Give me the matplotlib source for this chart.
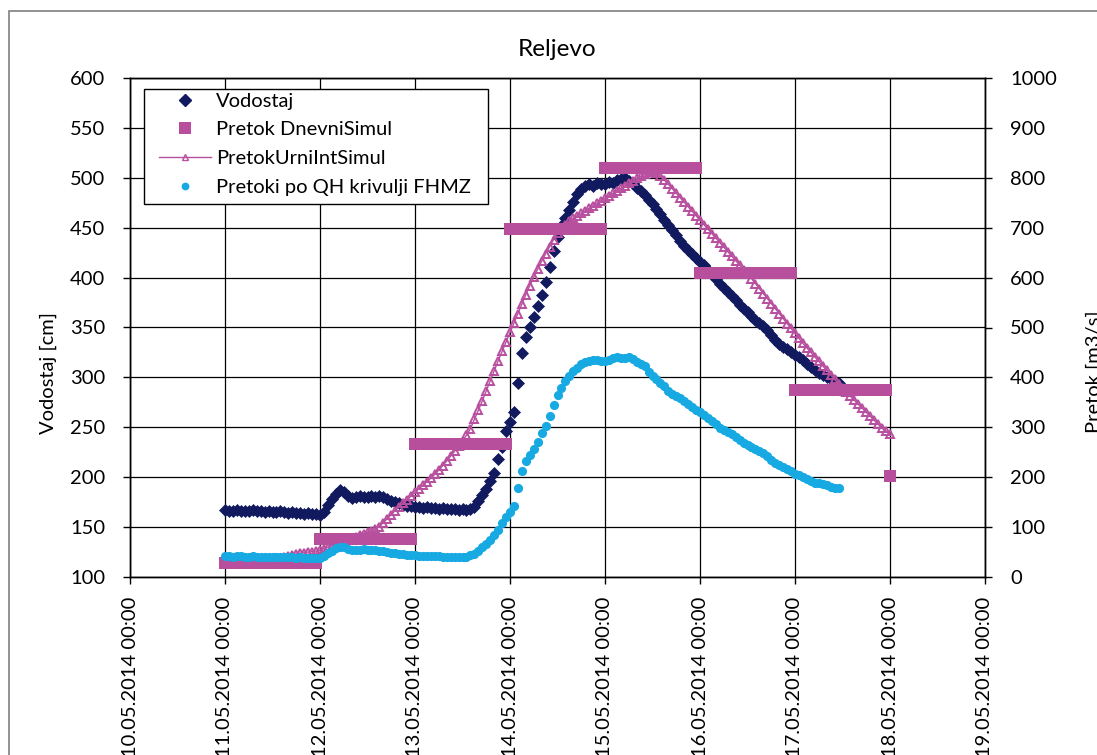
import numpy as np
import pandas as pd
import matplotlib
matplotlib.use("Agg")
import matplotlib.pyplot as plt
import matplotlib.dates as mdates
from matplotlib.lines import Line2D
from matplotlib.patches import Rectangle

plt.rcParams['font.family'] = ['Lato', 'DejaVu Sans']

# ---- data: hourly series starting 11.05.2014 00:00 ----
start = pd.Timestamp('2014-05-11 00:00')

# Water level (cm), hourly
vodostaj_cm = [
    167, 166, 166, 167, 166, 166, 166, 167, 166, 166, 165, 166, 165, 165, 166, 165, 164, 165, 164, 164, 163, 164, 163, 163,
    162, 165, 172, 178, 183, 187, 185, 181, 179, 180, 181, 180, 180, 181, 180, 181, 180, 178, 176, 175, 174, 172, 171, 171,
    170, 170, 169, 170, 169, 169, 168, 169, 168, 168, 168, 167, 168, 167, 168, 170, 176, 182, 188, 196, 204, 218, 230, 246,
    255, 265, 294, 324, 340, 350, 361, 372, 383, 396, 411, 427, 441, 452, 460, 468, 476, 484, 489, 492, 494, 492, 495, 494,
    494, 496, 495, 498, 499, 500, 497, 495, 490, 487, 483, 478, 474, 469, 464, 458, 453, 448, 443, 437, 432, 428, 424, 420,
    416, 413, 408, 404, 399, 394, 390, 386, 382, 378, 373, 369, 366, 362, 358, 355, 352, 347, 342, 337, 333, 330, 328, 325,
    322, 320, 317, 313, 310, 307, 304, 302, 300, 298, 296, 294,
]

# Discharge from the FHMZ rating curve (m3/s), hourly
pretok_qh = [
    42, 42, 41, 42, 42, 41, 41, 42, 41, 41, 41, 40, 41, 40, 40, 41, 40, 40, 39, 40, 39, 39, 38, 39,
    38, 42, 48, 53, 58, 61, 60, 56, 55, 55, 55, 56, 55, 55, 54, 53, 52, 51, 49, 48, 47, 46, 45, 45,
    44, 43, 43, 43, 42, 42, 42, 41, 41, 41, 41, 40, 41, 41, 44, 47, 53, 60, 67, 75, 85, 95, 108, 120,
    130, 143, 178, 213, 232, 244, 256, 270, 289, 303, 323, 345, 364, 378, 392, 403, 412, 419, 426, 430, 433, 435, 434, 432,
    432, 435, 439, 441, 438, 438, 441, 436, 430, 427, 422, 410, 402, 396, 388, 382, 373, 366, 362, 358, 352, 347, 341, 335,
    330, 324, 318, 312, 306, 298, 294, 290, 286, 280, 274, 268, 264, 260, 256, 252, 248, 243, 235, 228, 224, 220, 217, 212,
    207, 204, 200, 197, 193, 189, 188, 187, 185, 181, 179, 178,
]

# Simulated daily discharge (m3/s), one value per day 11.05 - 17.05, held for each hour
dnevni_values = [28, 77, 266, 698, 820, 610, 374]
dnevni_last = 203  # 18.05.2014 00:00

# Simulated hourly discharge (m3/s), 11.05 00:00 - 18.05 00:00
urni_int = [
    30, 30, 30, 30, 30, 31, 31, 32, 33, 34, 35, 36, 37, 38, 39, 40, 42, 44, 46, 48, 49, 50, 51, 52,
    54, 57, 60, 63, 66, 69, 72, 75, 78, 81, 84, 87, 90, 93, 97, 101, 109, 117, 125, 133, 141, 148, 155, 162,
    170, 177, 184, 191, 198, 206, 214, 223, 232, 242, 252, 262, 273, 284, 297, 316, 334, 353, 373, 393, 413, 433, 452, 471,
    490, 509, 528, 547, 566, 584, 601, 617, 633, 648, 662, 676, 689, 698, 706, 713, 719, 724, 729, 734, 739, 744, 749, 754,
    759, 764, 769, 774, 779, 784, 789, 794, 799, 803, 808, 812, 814, 810, 803, 795, 787, 778, 769, 760, 751, 742, 733, 724,
    715, 706, 697, 688, 679, 670, 661, 652, 643, 634, 625, 616, 607, 598, 588, 578, 568, 558, 548, 538, 528, 518, 508, 498,
    488, 478, 468, 459, 450, 441, 432, 423, 414, 405, 396, 387, 378, 370, 362, 354, 346, 338, 330, 322, 314, 306, 298, 292,
    287,
]

labels = ['Vodostaj', 'Pretok DnevniSimul', 'PretokUrniIntSimul', 'Pretoki po QH krivulji FHMZ']

t_obs = pd.date_range(start, periods=len(vodostaj_cm), freq='h')
t_urni = pd.date_range(start, periods=len(urni_int), freq='h')
t_dnevni = pd.date_range(start, periods=len(dnevni_values) * 24 + 1, freq='h')
dnevni_hourly = np.append(np.repeat(dnevni_values, 24), dnevni_last)

NAVY = '#111a5e'
MAGENTA = '#b84f9c'
MAGENTA_TRI = '#b84f9f'
CYAN = '#17a9e1'

W, H = 1097, 755
fig = plt.figure(figsize=(W / 100, H / 100), dpi=100)
fig.patch.set_facecolor('white')

# outer chart border
fig.patches.append(Rectangle((9 / W, -0.2), 2.0, (H - 11) / H + 0.2, transform=fig.transFigure,
                             fill=False, edgecolor='#7f7f7f', lw=1.2))

ax = fig.add_axes([130 / W, (H - 577) / H, 855 / W, 499 / H])
ax2 = ax.twinx()

FS = 14.5

# primary axis: water level
ax.plot(t_obs, vodostaj_cm, ls='none', marker='D', ms=6.6, color=NAVY, mec=NAVY, mew=0.5, zorder=3)

# secondary axis: discharges
ax2.plot(t_dnevni, dnevni_hourly, ls='none', marker='s', ms=8.8, color=MAGENTA, mec=MAGENTA, mew=0, zorder=3)
ax2.plot(t_urni, urni_int, ls='-', lw=1.0, color=MAGENTA_TRI, marker='^', ms=6.2, mfc='none',
         mec=MAGENTA_TRI, mew=1.4, zorder=4)
ax2.plot(t_obs, pretok_qh, ls='none', marker='o', ms=6.6, color=CYAN, mec=CYAN, mew=0, zorder=5)

x0 = pd.Timestamp('2014-05-10 00:00')
x1 = pd.Timestamp('2014-05-19 00:00')
ax.set_xlim(x0, x1)
ax.set_ylim(100, 600)
ax2.set_ylim(0, 1000)
ax.set_yticks(np.arange(100, 601, 50))
ax2.set_yticks(np.arange(0, 1001, 100))
ax.set_xticks(pd.date_range(x0, x1, freq='D'))
ax.xaxis.set_major_formatter(mdates.DateFormatter('%d.%m.%Y %H:%M'))

ax.grid(True, color='black', lw=0.9)
ax.set_axisbelow(True)
for s in ax.spines.values():
    s.set_color('black')
    s.set_linewidth(1.0)
for s in ax2.spines.values():
    s.set_color('black')
    s.set_linewidth(1.0)

ax.tick_params(axis='x', direction='out', length=5, width=1, pad=9, labelsize=FS, labelrotation=90)
ax.tick_params(axis='y', direction='out', length=5, width=1, pad=13, labelsize=FS)
ax2.tick_params(axis='y', direction='out', length=5, width=1, pad=13, labelsize=FS)
for lbl in ax.get_xticklabels():
    lbl.set_ha('center')
    lbl.set_va('top')

ax.set_title('Reljevo', fontsize=17.5, pad=16)
ax.set_ylabel('Vodostaj [cm]', fontsize=FS)
ax.yaxis.set_label_coords((57 - 130) / 855, (577 - 373) / 499)
ax2.set_ylabel('Pretok [m3/s]', fontsize=FS)
ax2.yaxis.set_label_coords((1086 - 130) / 855, (577 - 372) / 499)

# legend
handles = [
    Line2D([], [], ls='none', marker='D', ms=6.6, color=NAVY),
    Line2D([], [], ls='none', marker='s', ms=8.8, color=MAGENTA, mew=0),
    Line2D([], [], ls='-', lw=1.0, color=MAGENTA_TRI, marker='^', ms=4.0, mfc='none', mec=MAGENTA_TRI),
    Line2D([], [], ls='none', marker='o', ms=5.6, color=CYAN, mew=0),
]
ax2.add_patch(Rectangle((144 / W, (H - 204) / H), (488 - 144) / W, (204 - 89) / H,
                        transform=fig.transFigure, facecolor='white', edgecolor='black',
                        lw=1.0, zorder=9, clip_on=False))
leg = ax2.legend(handles, labels, loc='upper left', bbox_to_anchor=(159 / W, (H - 92.5) / H),
                 bbox_transform=fig.transFigure, frameon=False, fontsize=FS, borderpad=0,
                 borderaxespad=0, handlelength=2.6, handletextpad=0.25, labelspacing=0.58)
leg.set_zorder(10)

fig.savefig('out.png', dpi=100, facecolor='white')
